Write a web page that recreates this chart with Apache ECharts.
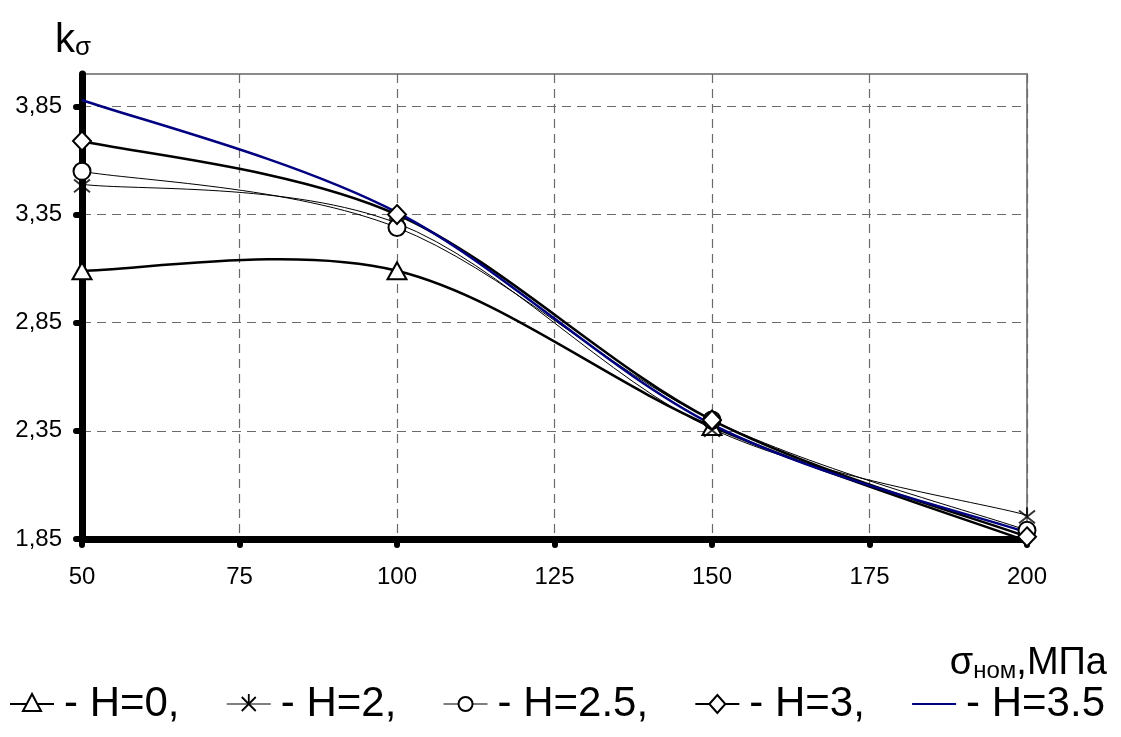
<!DOCTYPE html>
<html>
<head>
<meta charset="utf-8">
<script src="https://cdn.jsdelivr.net/npm/echarts@6/dist/echarts.min.js"></script>
<style>
  html, body { margin: 0; padding: 0; background: #fff; }
  #chart { width: 1121px; height: 737px; }
</style>
</head>
<body>
<div id="chart"></div>
<script>
// Stress concentration factor k_sigma versus nominal stress, for several H
const stress = [50, 100, 150, 200];
const kH0 = [3.09, 3.09, 2.37, 1.84];
const kH2 = [3.49, 3.31, 2.36, 1.96];
const kH25 = [3.55, 3.29, 2.40, 1.89];
const kH3 = [3.69, 3.35, 2.40, 1.86];
const kH35 = [3.88, 3.36, 2.38, 1.88];
const seriesNames = ['H=0', 'H=2', 'H=2.5', 'H=3', 'H=3.5'];
const yTickValues = [1.85, 2.35, 2.85, 3.35, 3.85];
const xTickValues = [50, 75, 100, 125, 150, 175, 200];

const FONT = "'Liberation Sans', Arial, sans-serif";
const NAVY = '#000080';
const asterisk = 'path://M0,4L20,20M20,4L0,20M10,0L10,12';

// Per-curve drawing style: stroke, marker
const curves = [
  { name: seriesNames[0], ys: kH0, color: '#000', width: 2.5, symbol: 'triangle', size: [19, 17] },
  { name: seriesNames[1], ys: kH2, color: '#000', width: 1, symbol: asterisk, size: [16, 16] },
  { name: seriesNames[2], ys: kH25, color: '#000', width: 1, symbol: 'circle', size: 17 },
  { name: seriesNames[3], ys: kH3, color: '#000', width: 2.5, symbol: 'diamond', size: [18, 19] },
  { name: seriesNames[4], ys: kH35, color: NAVY, width: 2.5, symbol: 'none', size: 0 }
];

// Smooth curve: each data item draws the cubic Bezier segment to the next point,
// with Catmull-Rom style tangents taken from the neighbouring points.
function smoothCurveSeries(c) {
  return {
    name: c.name,
    type: 'custom',
    z: 4,
    silent: true,
    data: stress.map((x, i) => [x, c.ys[i]]),
    renderItem: (params, api) => {
      const i = params.dataIndex;
      if (i >= stress.length - 1) return null;
      const pt = (k) => {
        const j = Math.max(0, Math.min(stress.length - 1, k));
        return api.coord([stress[j], c.ys[j]]);
      };
      const p0 = pt(i - 1), p1 = pt(i), p2 = pt(i + 1), p3 = pt(i + 2);
      const t = 1 / 6;
      return {
        type: 'bezierCurve',
        shape: {
          x1: p1[0], y1: p1[1], x2: p2[0], y2: p2[1],
          cpx1: p1[0] + (p2[0] - p0[0]) * t, cpy1: p1[1] + (p2[1] - p0[1]) * t,
          cpx2: p2[0] - (p3[0] - p1[0]) * t, cpy2: p2[1] - (p3[1] - p1[1]) * t
        },
        style: { stroke: c.color, lineWidth: c.width, fill: null }
      };
    }
  };
}

function markerSeries(c) {
  return {
    name: c.name,
    type: 'scatter',
    z: 6,
    silent: true,
    data: stress.map((x, i) => [x, c.ys[i]]),
    symbol: c.symbol,
    symbolSize: c.size,
    itemStyle: c.symbol === asterisk
      ? { color: 'rgba(0,0,0,0)', borderColor: '#000', borderWidth: 2 }
      : { color: '#fff', borderColor: '#000', borderWidth: 2, opacity: 1 }
  };
}

// Legend built from graphic elements: line sample with marker, then "- name,"
const LEGEND_FONT_SIZE = 42;
const legendTexts = seriesNames.map((n, i) => '- ' + n + (i < seriesNames.length - 1 ? ',' : ''));
const measureCtx = document.createElement('canvas').getContext('2d');
measureCtx.font = LEGEND_FONT_SIZE + 'px ' + FONT;
const textWidths = legendTexts.map((t) => measureCtx.measureText(t).width);

function legendGraphics() {
  const left = 10, right = 1105, cy = 704, iconW = 44, iconGap = 10;
  const total = textWidths.reduce((a, b) => a + b, 0) + curves.length * (iconW + iconGap);
  const gap = (right - left - total) / (curves.length - 1);
  const els = [];
  let x = left;
  curves.forEach((c, i) => {
    const mid = x + iconW / 2;
    els.push({
      type: 'line', z: 10,
      shape: { x1: x, y1: cy, x2: x + iconW, y2: cy },
      style: { stroke: c.color, lineWidth: c.width === 1 ? 1.2 : 2.2 }
    });
    const mk = { fill: '#fff', stroke: '#000', lineWidth: 2 };
    if (c.symbol === 'triangle') {
      els.push({ type: 'polygon', z: 11, shape: { points: [[mid, cy - 10], [mid - 9, cy + 7], [mid + 9, cy + 7]] }, style: mk });
    } else if (c.symbol === 'circle') {
      els.push({ type: 'circle', z: 11, shape: { cx: mid, cy: cy, r: 7 }, style: mk });
    } else if (c.symbol === 'diamond') {
      els.push({ type: 'polygon', z: 11, shape: { points: [[mid, cy - 9], [mid + 8, cy], [mid, cy + 9], [mid - 8, cy]] }, style: mk });
    } else if (c.symbol === asterisk) {
      const s = 7;
      const st = { stroke: '#000', lineWidth: 1.8 };
      els.push({ type: 'line', z: 11, shape: { x1: mid - s, y1: cy - s, x2: mid + s, y2: cy + s }, style: st });
      els.push({ type: 'line', z: 11, shape: { x1: mid + s, y1: cy - s, x2: mid - s, y2: cy + s }, style: st });
      els.push({ type: 'line', z: 11, shape: { x1: mid, y1: cy - s - 3, x2: mid, y2: cy }, style: st });
    }
    x += iconW + iconGap;
    els.push({
      type: 'text', z: 11,
      style: {
        text: legendTexts[i], x: x, y: cy,
        fontFamily: FONT, fontSize: LEGEND_FONT_SIZE, fill: '#000',
        align: 'left', verticalAlign: 'middle'
      }
    });
    x += textWidths[i] + gap;
  });
  return els;
}

const chart = echarts.init(document.getElementById('chart'), null, { renderer: 'canvas' });
chart.setOption({
  animation: false,
  backgroundColor: '#fff',
  title: [
    {
      text: '{k|k}{s|σ}',
      left: 50, top: 10,
      textStyle: {
        rich: {
          k: { fontFamily: FONT, fontSize: 40, fontWeight: 'normal', lineHeight: 46, verticalAlign: 'bottom', color: '#000' },
          s: { fontFamily: FONT, fontSize: 26, fontWeight: 'normal', lineHeight: 26, verticalAlign: 'bottom', color: '#000' }
        }
      }
    },
    {
      text: '{a|σ}{b|ном}{a|,МПа}',
      right: 9, top: 634,
      textStyle: {
        rich: {
          a: { fontFamily: FONT, fontSize: 38, fontWeight: 'normal', lineHeight: 44, verticalAlign: 'bottom', color: '#000' },
          b: { fontFamily: FONT, fontSize: 24, fontWeight: 'normal', lineHeight: 24, verticalAlign: 'bottom', color: '#000' }
        }
      }
    }
  ],
  graphic: legendGraphics(),
  grid: {
    left: 82, right: 94, top: 74, bottom: 198,
    show: true, borderColor: '#8a8a8a', borderWidth: 2, backgroundColor: '#fff'
  },
  xAxis: {
    type: 'value', min: 50, max: 200, interval: 25, z: 3,
    axisLine: { show: true, onZero: false, lineStyle: { color: '#000', width: 7, cap: 'round' } },
    axisTick: { show: true, length: 6, lineStyle: { color: '#000', width: 6, cap: 'round' } },
    axisLabel: {
      margin: 26, fontFamily: FONT, fontSize: 24, color: '#000',
      customValues: xTickValues
    },
    splitLine: { show: true, lineStyle: { color: '#6a6a6a', width: 1.2, type: [9, 6] } }
  },
  yAxis: {
    type: 'value', min: 1.85, max: 4.0, interval: 0.5, z: 3,
    axisLine: { show: true, onZero: false, lineStyle: { color: '#000', width: 7, cap: 'round' } },
    axisTick: { show: true, length: 6, customValues: yTickValues, lineStyle: { color: '#000', width: 6, cap: 'round' } },
    axisLabel: {
      margin: 20, fontFamily: FONT, fontSize: 24, color: '#000',
      customValues: yTickValues,
      formatter: (v) => v.toFixed(2).replace('.', ',')
    },
    splitLine: { show: true, lineStyle: { color: '#6a6a6a', width: 1.2, type: [9, 6] } }
  },
  series: curves.map(smoothCurveSeries).concat(
    curves.filter((c) => c.symbol !== 'none').map(markerSeries)
  )
});
</script>
</body>
</html>
